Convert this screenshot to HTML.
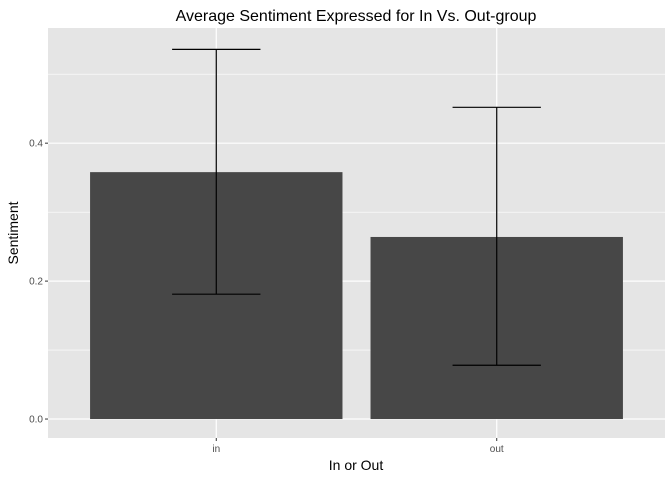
<!DOCTYPE html>
<html><head><meta charset="utf-8"><style>
body{margin:0;background:#fff;font-family:"Liberation Sans",Arial,sans-serif}
</style></head><body>
<svg id="chart" width="672" height="480" xmlns="http://www.w3.org/2000/svg" font-family="Liberation Sans, Arial, sans-serif">
<text x="356" y="21" text-anchor="middle" font-size="16" fill="#000">Average Sentiment Expressed for In Vs. Out-group</text>
<rect x="48" y="28" width="617" height="410" fill="#e5e5e5"/>
<g id="grid"></g><g id="bars"></g><g id="axes"></g>
<text x="356" y="470" text-anchor="middle" font-size="14">In or Out</text>
<text transform="translate(18,233) rotate(-90)" text-anchor="middle" font-size="14">Sentiment</text>
</svg>
<script>
const categories=["in","out"];
const means=[0.358,0.264];
const upper=[0.536,0.452];
const lower=[0.181,0.078];
const yTicks=[0,0.2,0.4];
const yTickLabels=["0.0","0.2","0.4"];
const yMinor=[0.1,0.3,0.5];
const NS="http://www.w3.org/2000/svg";
const px0=48,px1=665,py0=438,py1=28,ymin=-0.0275,ymax=0.567;
const band=(px1-px0)/(categories.length+0.2);
function x(i){return px0+band*(0.6+i);}
function y(v){return py0-(v-ymin)/(ymax-ymin)*(py0-py1);}
function mk(tag,attrs,parent){const e=document.createElementNS(NS,tag);for(const k in attrs)e.setAttribute(k,attrs[k]);document.getElementById(parent).appendChild(e);return e;}
yMinor.forEach(v=>{const l=mk('line',{x1:px0,x2:px1,y1:y(v),y2:y(v),stroke:'#fff','stroke-width':0.6},'grid');

});
yTicks.forEach((v,i)=>{const l=mk('line',{x1:px0,x2:px1,y1:y(v),y2:y(v),stroke:'#fff','stroke-width':1.2},'grid');


const t=mk('line',{x1:px0-3,x2:px0,y1:y(v),y2:y(v),stroke:'#333'},'axes');


const tx=mk('text',{x:px0-5,y:y(v)+3.5,'text-anchor':'end','font-size':10,fill:'#4d4d4d'},'axes');tx.textContent=yTickLabels[i];

});
categories.forEach((c,i)=>{const cx=x(i);
const g=mk('line',{x1:cx,x2:cx,y1:py1,y2:py0,stroke:'#fff','stroke-width':1.2},'grid');


const bw=band*0.9;
const b=mk('rect',{x:cx-bw/2,y:y(means[i]),width:bw,height:y(0)-y(means[i]),fill:'#474747'},'bars');


const ew=band*0.315;
const e=mk('path',{d:`M${cx-ew/2},${y(upper[i])}H${cx+ew/2}M${cx},${y(upper[i])}V${y(lower[i])}M${cx-ew/2},${y(lower[i])}H${cx+ew/2}`,stroke:'#000','stroke-width':1.2,fill:'none'},'bars');


const t=mk('line',{x1:cx,x2:cx,y1:py0,y2:py0+3,stroke:'#333'},'axes');


const tx=mk('text',{x:cx,y:py0+14,'text-anchor':'middle','font-size':10,fill:'#4d4d4d'},'axes');tx.textContent=c;

});
</script>
</body></html>
